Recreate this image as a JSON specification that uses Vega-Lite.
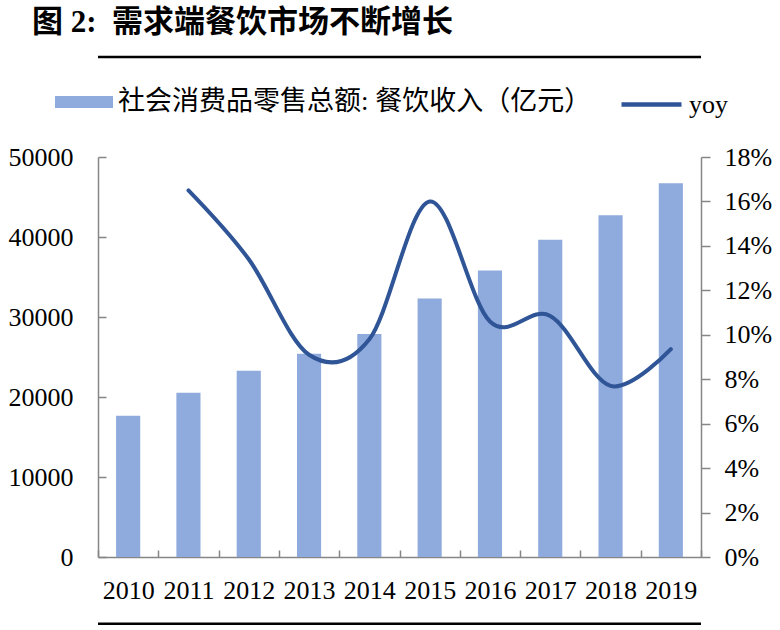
{
  "$schema": "https://vega.github.io/schema/vega-lite/v6.json",
  "width": 603,
  "height": 400,
  "autosize": {"type": "none"},
  "padding": {"left": 98, "top": 157, "right": 79, "bottom": 73},
  "background": "white",
  "config": {"view": {"stroke": null}},
  "title": {
    "text": "图 2:\u00a0\u00a0需求端餐饮市场不断增长",
    "anchor": "start",
    "frame": "group",
    "font": "Liberation Serif, Noto Sans CJK SC",
    "fontSize": 31,
    "fontWeight": "bold",
    "color": "black",
    "dx": -66,
    "offset": -7,
    "baseline": "alphabetic"
  },
  "layer": [
    {
      "data": {"values": [
        {"year": "2010", "revenue": 17648, "yoy": null},
        {"year": "2011", "revenue": 20543, "yoy": 16.5},
        {"year": "2012", "revenue": 23283, "yoy": 13.4},
        {"year": "2013", "revenue": 25392, "yoy": 9.1},
        {"year": "2014", "revenue": 27860, "yoy": 9.8},
        {"year": "2015", "revenue": 32310, "yoy": 16.0},
        {"year": "2016", "revenue": 35799, "yoy": 10.6},
        {"year": "2017", "revenue": 39644, "yoy": 10.85},
        {"year": "2018", "revenue": 42716, "yoy": 7.7},
        {"year": "2019", "revenue": 46721, "yoy": 9.35}
      ]},
      "layer": [
        {
          "mark": {"type": "bar", "width": {"band": 0.4}},
          "encoding": {
            "x": {
              "field": "year", "type": "ordinal",
              "scale": {"paddingInner": 0, "paddingOuter": 0},
              "axis": {
                "title": null, "labelAngle": 0, "tickBand": "extent",
                "tickSize": -7, "tickColor": "#868686", "tickWidth": 1.5,
                "domainColor": "#868686", "domainWidth": 1.5,
                "labelPadding": 27, "labelFont": "Liberation Serif", "labelFontSize": 26,
                "labelColor": "black", "labelOverlap": false, "grid": false
              }
            },
            "y": {
              "field": "revenue", "type": "quantitative",
              "scale": {"domain": [0, 50000]},
              "axis": {
                "title": null, "values": [0, 10000, 20000, 30000, 40000, 50000], "format": "d",
                "tickSize": -8, "tickColor": "#868686", "tickWidth": 1.5,
                "domainColor": "#868686", "domainWidth": 1.5,
                "labelPadding": 33, "labelFont": "Liberation Serif", "labelFontSize": 26,
                "labelColor": "black", "labelFlush": false, "labelOverlap": false, "grid": false
              }
            },
            "color": {
              "datum": "社会消费品零售总额: 餐饮收入（亿元）",
              "scale": {"range": ["#8FAADC"]},
              "legend": {
                "orient": "none", "legendX": -43, "legendY": -84, "title": null, "padding": 0,
                "symbolType": "M-1,-0.207H1V0.207H-1Z", "symbolSize": 3364, "symbolStrokeWidth": 0,
                "symbolOpacity": 1,
                "labelFont": "Liberation Serif, Noto Sans CJK SC", "labelFontSize": 27,
                "labelColor": "black", "labelLimit": 0, "labelOffset": 5
              }
            }
          }
        },
        {
          "transform": [{"filter": "datum.yoy != null"}],
          "mark": {"type": "line", "interpolate": "cardinal", "strokeWidth": 4, "strokeCap": "round"},
          "encoding": {
            "x": {
              "field": "year", "type": "ordinal",
              "scale": {"paddingInner": 0, "paddingOuter": 0},
              "axis": {
                "title": null, "labelAngle": 0, "tickBand": "extent",
                "tickSize": -7, "tickColor": "#868686", "tickWidth": 1.5,
                "domainColor": "#868686", "domainWidth": 1.5,
                "labelPadding": 27, "labelFont": "Liberation Serif", "labelFontSize": 26,
                "labelColor": "black", "labelOverlap": false, "grid": false
              }
            },
            "y": {
              "field": "yoy", "type": "quantitative",
              "scale": {"domain": [0, 18]},
              "axis": {
                "orient": "right", "title": null, "values": [0, 2, 4, 6, 8, 10, 12, 14, 16, 18],
                "labelExpr": "datum.value + '%'",
                "tickSize": 9, "tickColor": "#868686", "tickWidth": 1.5,
                "domainColor": "#868686", "domainWidth": 1.5,
                "labelPadding": 14, "labelFont": "Liberation Serif", "labelFontSize": 26,
                "labelColor": "black", "labelFlush": false, "labelOverlap": false, "grid": false
              }
            },
            "color": {
              "datum": "yoy",
              "scale": {"range": ["#2F5597"]},
              "legend": {
                "orient": "none", "legendX": 521, "legendY": -85, "title": null, "padding": 0,
                "symbolType": "stroke", "symbolSize": 3600, "symbolStrokeWidth": 4.5,
                "labelFont": "Liberation Serif, Noto Sans CJK SC", "labelFontSize": 26,
                "labelColor": "black", "labelLimit": 0, "labelOffset": 5
              }
            }
          }
        }
      ],
      "resolve": {"scale": {"y": "independent", "color": "independent"}, "axis": {"y": "independent"}, "legend": {"color": "independent"}}
    },
    {
      "data": {"values": [{}]},
      "layer": [
        {
          "mark": {"type": "rule", "color": "black", "strokeWidth": 2.5},
          "encoding": {"y": {"datum": 22.5, "type": "quantitative", "scale": {"domain": [0, 18]}, "axis": null}}
        },
        {
          "mark": {"type": "rule", "color": "black", "strokeWidth": 2.5},
          "encoding": {"y": {"datum": -3.0, "type": "quantitative", "scale": {"domain": [0, 18]}, "axis": null}}
        }
      ]
    }
  ],
  "resolve": {"scale": {"y": "independent", "color": "independent"}, "axis": {"y": "independent"}, "legend": {"color": "independent"}}
}
